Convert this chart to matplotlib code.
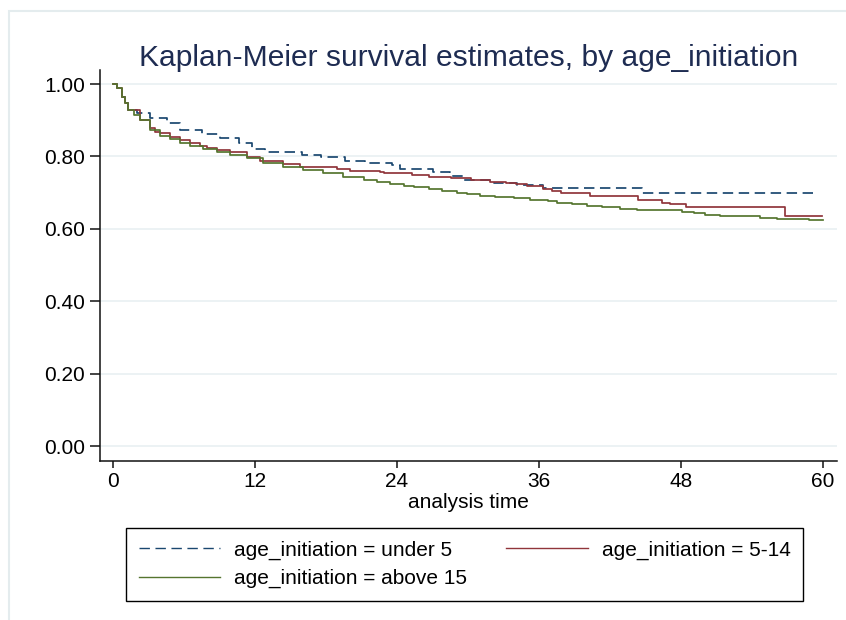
import matplotlib
matplotlib.use("Agg")
import matplotlib.pyplot as plt
from matplotlib.patches import Rectangle
from matplotlib import font_manager

# ---- data ----
t_under5 = [0, 0.35, 0.78, 1.06, 1.33, 2.04, 3.2, 4.6, 5.7, 7.6, 9.1, 10.7, 11.8, 12.9,
            16.0, 17.6, 19.6, 21.3, 23.6, 24.3, 27.1, 28.5, 29.6, 32.2, 34.2, 36.4, 44.7, 59.2]
s_under5 = [1.0, 0.988, 0.965, 0.947, 0.928, 0.919, 0.905, 0.891, 0.873, 0.862, 0.850, 0.836,
            0.820, 0.813, 0.804, 0.797, 0.788, 0.783, 0.776, 0.765, 0.758, 0.747, 0.735, 0.726,
            0.720, 0.712, 0.700, 0.700]

t_5_14 = [0, 0.35, 0.78, 1.06, 1.33, 2.32, 3.17, 3.6, 4.01, 4.86, 5.70, 6.55, 7.39, 7.95,
          8.80, 9.92, 11.33, 12.46, 14.43, 15.84, 18.94, 20.06, 22.59, 22.9, 25.3, 26.7, 28.6,
          30.3, 31.9, 33.2, 34.1, 35.0, 36.4, 37.1, 37.9, 40.3, 44.4, 46.4, 47.1, 48.4, 56.8, 59.9]
s_5_14 = [1.0, 0.988, 0.965, 0.947, 0.928, 0.901, 0.878, 0.868, 0.864, 0.854, 0.845, 0.838,
          0.829, 0.822, 0.818, 0.811, 0.797, 0.787, 0.778, 0.770, 0.765, 0.761, 0.757, 0.753,
          0.749, 0.742, 0.739, 0.735, 0.730, 0.727, 0.724, 0.718, 0.709, 0.705, 0.700, 0.691,
          0.680, 0.672, 0.669, 0.660, 0.635, 0.635]

t_above15 = [0, 0.35, 0.78, 1.06, 1.33, 1.8, 2.32, 3.17, 4.01, 4.86, 5.70, 6.55, 7.67, 8.80,
             9.92, 11.33, 12.74, 14.43, 16.1, 17.8, 19.5, 21.2, 22.3, 23.4, 24.6, 25.5, 26.7,
             27.8, 29.1, 29.9, 31.0, 32.3, 33.9, 35.3, 36.8, 37.5, 38.8, 40.1, 41.3, 42.9, 44.3,
             48.1, 49.1, 50.0, 51.3, 54.7, 56.1, 58.8, 60.0]
s_above15 = [1.0, 0.988, 0.965, 0.947, 0.928, 0.915, 0.901, 0.873, 0.857, 0.848, 0.836, 0.829,
             0.820, 0.813, 0.804, 0.795, 0.781, 0.770, 0.762, 0.753, 0.744, 0.735, 0.728, 0.724,
             0.718, 0.715, 0.710, 0.705, 0.700, 0.696, 0.692, 0.689, 0.684, 0.680, 0.677, 0.672,
             0.669, 0.664, 0.659, 0.655, 0.652, 0.647, 0.643, 0.639, 0.635, 0.630, 0.627, 0.623,
             0.623]

labels = ["age_initiation = under 5", "age_initiation = 5-14", "age_initiation = above 15"]
x_ticks = [0, 12, 24, 36, 48, 60]
y_ticks = [0.0, 0.2, 0.4, 0.6, 0.8, 1.0]
y_ticklabels = ["0.00", "0.20", "0.40", "0.60", "0.80", "1.00"]
title = "Kaplan-Meier survival estimates, by age_initiation"
xlabel = "analysis time"

# ---- style ----
plt.rcParams['font.family'] = ['Liberation Sans', 'DejaVu Sans']
plt.rcParams['lines.scale_dashes'] = False
navy, maroon, green = '#1a476f', '#90353b', '#55752f'

avail = {f.name for f in font_manager.fontManager.ttflist}
if 'Liberation Sans Narrow' in avail:
    xtick_font, xtick_size = ['Liberation Sans Narrow', 'Liberation Sans'], 18
else:
    xtick_font, xtick_size = ['Liberation Sans', 'DejaVu Sans'], 15

W, H = 846, 620
fig = plt.figure(figsize=(W / 100, H / 100), dpi=100)
fig.patch.set_facecolor('white')

# graph region outline (light)
fig.add_artist(Rectangle((9 / W, -0.1), 1.2, 1 - 11 / H + 0.1, transform=fig.transFigure,
                         fill=False, edgecolor='#e4ecee', linewidth=1.5, zorder=0))

ax = fig.add_axes([100 / W, (H - 460.7) / H, (837 - 100) / W, (460.7 - 70) / H])
ax.set_xlim(-1.056, 61.19)
ax.set_ylim(-0.0406, 1.0387)

for y in y_ticks:
    ax.axhline(y, color='#eaf1f3', linewidth=1.3, zorder=1)

h1, = ax.step(t_under5, s_under5, where='post', color=navy, linewidth=1.25,
              dashes=(7.5, 4.0), zorder=3)
h2, = ax.step(t_5_14, s_5_14, where='post', color=maroon, linewidth=1.25, zorder=3)
h3, = ax.step(t_above15, s_above15, where='post', color=green, linewidth=1.25, zorder=3)

for side in ['top', 'right']:
    ax.spines[side].set_visible(False)
for side in ['left', 'bottom']:
    ax.spines[side].set_linewidth(1.1)
    ax.spines[side].set_color('#111111')

ax.set_yticks(y_ticks)
ax.set_yticklabels(y_ticklabels, fontsize=15)
ax.set_xticks(x_ticks)
ax.set_xticklabels([str(v) for v in x_ticks], fontsize=xtick_size, family=xtick_font)
ax.tick_params(axis='y', length=7.2, width=1.1, pad=3.6, color='#111111')
ax.tick_params(axis='x', length=5.2, width=1.1, pad=3.0, color='#111111')

fig.text(468.5 / W, 1 - 66 / H, title, ha='center', va='baseline', fontsize=21.6,
         color='#1e2c52')
fig.text(468.5 / W, 1 - 508 / H, xlabel, ha='center', va='baseline', fontsize=15)

leg = fig.legend([h1, h3, h2], [labels[0], labels[2], labels[1]], ncol=2,
                 loc='center', bbox_to_anchor=(464.5 / W, 1 - 564.5 / H),
                 fontsize=15, frameon=True, fancybox=False, shadow=False,
                 handlelength=3.9, handletextpad=0.67, columnspacing=1.9,
                 labelspacing=0.45, borderpad=0.6)
leg.get_frame().set_edgecolor('black')
leg.get_frame().set_linewidth(1.0)
leg.get_frame().set_alpha(1)
for line in leg.get_lines():
    line.set_linewidth(1.0)

fig.savefig('out.png', dpi=100)
